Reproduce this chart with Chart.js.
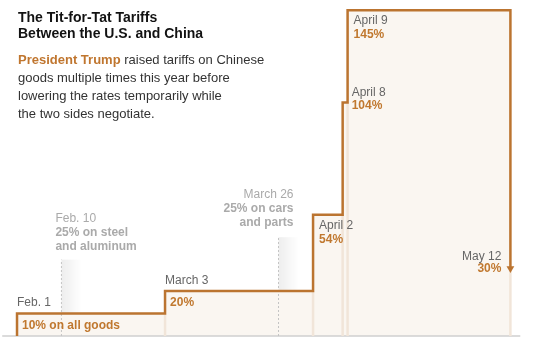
<!DOCTYPE html>
<html>
<head>
<meta charset="utf-8">
<script src="https://cdn.jsdelivr.net/npm/chart.js@4.4.1/dist/chart.umd.min.js"></script>
<style>
  body { margin: 0; background: #fff; }
  #wrap { position: relative; width: 541px; height: 347px; }
  #chart { position: absolute; left: 0; top: 0; }
  .head { position: absolute; left: 18px; font-family: "Liberation Sans", Arial, sans-serif; }
  #title { top: 9px; font-size: 14px; line-height: 16px; font-weight: bold; color: #121212; }
  #dek { top: 51px; font-size: 13px; line-height: 18px; color: #333; }
  #dek b { color: #c0762f; }
</style>
</head>
<body>
<div id="wrap">
  <canvas id="chart" width="541" height="347"></canvas>
  <div class="head" id="title">The Tit-for-Tat Tariffs<br>Between the U.S. and China</div>
  <div class="head" id="dek"><b>President Trump</b> raised tariffs on Chinese<br>goods multiple times this year before<br>lowering the rates temporarily while<br>the two sides negotiate.</div>
</div>
<script>
// tariff steps on Chinese goods
var dates = ["2025-02-01", "2025-03-03", "2025-04-02", "2025-04-08", "2025-04-09", "2025-05-12"];
var rates = [10, 20, 54, 104, 145, 30];
var dateLabels = ["Feb. 1", "March 3", "April 2", "April 8", "April 9", "May 12"];
var rateLabels = ["10% on all goods", "20%", "54%", "104%", "145%", "30%"];

// sector tariffs (shown in gray)
var sectorDates = ["2025-02-10", "2025-03-26"];
var sectorLabels = [
	["Feb. 10", "25% on steel", "and aluminum"],
	["March 26", "25% on cars", "and parts"]
];

var ORANGE = "#bb7430";
var ORANGE_TXT = "#c0782f";
var FONT = '"Liberation Sans", Arial, sans-serif';

function dayOfYear(s) {
	var p = s.split("-").map(Number);
	return (Date.UTC(p[0], p[1] - 1, p[2]) - Date.UTC(p[0], 0, 0)) / 864e5;
}

var stepX = dates.map(dayOfYear);
var sectorX = sectorDates.map(dayOfYear);

var stepPts = [{ x: stepX[0], y: 0 }];
stepX.forEach(function (x, i) { stepPts.push({ x: x, y: rates[i] }); });

// faint continuation of each riser down to the baseline
var risers = [];
stepX.forEach(function (x, i) {
	if (i === 0) return;
	risers.push({ x: x, y: 0 }, { x: x, y: Math.min(rates[i - 1], rates[i]) }, { x: x, y: null });
});

var sectorTops = [34, 44];
var dotted = [];
sectorX.forEach(function (x, i) {
	dotted.push({ x: x, y: 0 }, { x: x, y: sectorTops[i] }, { x: x, y: null });
});

var baseline = [{ x: stepX[0] - 3, y: 0 }, { x: stepX[stepX.length - 1] + 2, y: 0 }];

var shading = {
	id: "shading",
	beforeDatasetsDraw: function (chart) {
		var c = chart.ctx, xs = chart.scales.x, ys = chart.scales.y;
		sectorX.forEach(function (d, i) {
			var x0 = xs.getPixelForValue(d), top = ys.getPixelForValue(sectorTops[i]), bot = ys.getPixelForValue(0);
			var g = c.createLinearGradient(x0, 0, x0 + 20, 0);
			g.addColorStop(0, "rgba(0,0,0,0.07)");
			g.addColorStop(1, "rgba(0,0,0,0)");
			c.fillStyle = g;
			c.fillRect(x0, top, 20, bot - top);
		});
	}
};

var labels = {
	id: "labels",
	afterDatasetsDraw: function (chart) {
		var c = chart.ctx, xs = chart.scales.x, ys = chart.scales.y;
		c.save();
		c.textBaseline = "middle";
		function txt(s, x, y, color, bold, align) {
			c.font = (bold ? "bold " : "") + "12px " + FONT;
			c.fillStyle = color;
			c.textAlign = align || "left";
			c.fillText(s, x, y);
		}
		// [dx for date, dy for date, dx for rate, dy for rate, align]
		var place = [
			[0, -11, 5, 12.5, "left"],
			[0, -10, 5, 11.5, "left"],
			[6, 11, 6, 24.5, "left"],
			[9, -10, 9, 3, "left"],
			[6, 10.5, 6, 24, "left"],
			[-9, -12, -9, 0, "right"]
		];
		stepX.forEach(function (d, i) {
			var x = xs.getPixelForValue(d), y = ys.getPixelForValue(rates[i]), p = place[i];
			txt(dateLabels[i], x + p[0], y + p[1], "#666", false, p[4]);
			txt(rateLabels[i], x + p[2], y + p[3], ORANGE_TXT, true, p[4]);
		});
		var bot = ys.getPixelForValue(0);
		var sPlace = [[-6, -117, "left"], [15, -141, "right"]];
		sectorX.forEach(function (d, i) {
			var x = xs.getPixelForValue(d), p = sPlace[i];
			sectorLabels[i].forEach(function (s, j) {
				txt(s, x + p[0], bot + p[1] + j * 14, "#aaa", j > 0, p[2]);
			});
		});
		c.restore();
	}
};

new Chart(document.getElementById("chart"), {
	type: "line",
	data: {
		datasets: [
			{
				data: stepPts, stepped: "before", fill: "origin",
				backgroundColor: "#faf6f1", borderWidth: 0, pointRadius: 0, order: 5
			},
			{
				data: baseline, borderColor: "#cfcfcf", borderWidth: 1.5, pointRadius: 0, order: 4
			},
			{
				data: risers, borderColor: "#f1e5d9", borderWidth: 2.5, pointRadius: 0, spanGaps: false, order: 3
			},
			{
				data: dotted, borderColor: "#c4c4c4", borderWidth: 1, borderDash: [2, 2], pointRadius: 0, spanGaps: false, order: 2
			},
			{
				data: stepPts, stepped: "before", fill: false,
				borderColor: ORANGE, borderWidth: 2.5, borderJoinStyle: "miter",
				pointStyle: "triangle",
				pointRotation: 180,
				pointRadius: function (ctx) { return ctx.dataIndex === stepPts.length - 1 ? 4.5 : 0; },
				pointBackgroundColor: ORANGE, pointBorderColor: ORANGE, pointBorderWidth: 0,
				order: 1
			}
		]
	},
	options: {
		responsive: false,
		animation: false,
		clip: false,
		layout: { padding: { left: 0, right: 0, top: 0, bottom: 11 }, autoPadding: false },
		scales: {
			x: { type: "linear", display: false, min: 28.55, max: 138.2 },
			y: { display: false, min: 0, max: 149.6 }
		},
		plugins: {
			legend: { display: false },
			tooltip: { enabled: false }
		},
		events: []
	},
	plugins: [shading, labels]
});
</script>
</body>
</html>
